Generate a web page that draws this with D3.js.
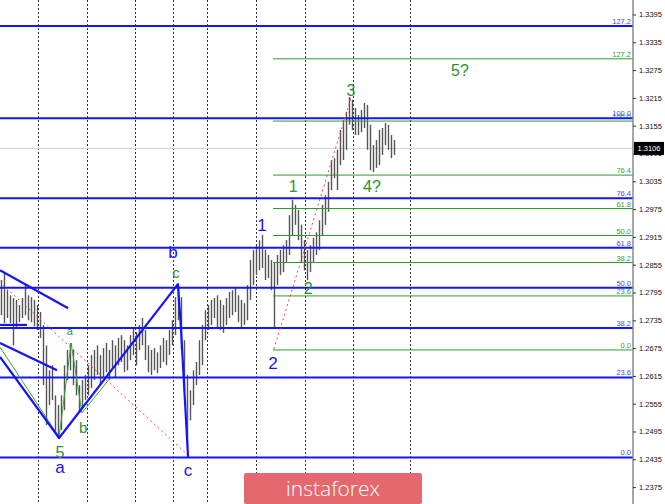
<!DOCTYPE html>
<html><head><meta charset="utf-8">
<script src="https://cdn.jsdelivr.net/npm/d3@7"></script>
<style>html,body{margin:0;padding:0;background:#fff;} svg{display:block;}</style>
</head><body>
<svg id="chart" width="665" height="504"></svg>
<script>
// ---- DATA ----
const highs = [
1.2822,1.2837,1.2800,1.2789,1.2783,1.2779,1.2768,1.2783,1.2811,1.2789,
1.2785,1.2779,1.2768,1.2753,1.2725,1.2681,1.2627,1.2638,1.2573,1.2552,
1.2573,1.2638,1.2671,1.2686,1.2671,1.2649,1.2595,1.2606,1.2617,1.2638,
1.2660,1.2671,1.2681,1.2660,1.2675,1.2686,1.2671,1.2692,1.2681,1.2697,
1.2703,1.2692,1.2681,1.2703,1.2718,1.2710,1.2725,1.2740,1.2714,1.2681,
1.2671,1.2675,1.2666,1.2681,1.2697,1.2692,1.2714,1.2735,1.2785,1.2811,
1.2785,1.2692,1.2617,1.2584,1.2627,1.2645,1.2692,1.2725,1.2757,1.2768,
1.2779,1.2783,1.2789,1.2779,1.2768,1.2783,1.2796,1.2800,1.2807,1.2789,
1.2779,1.2772,1.2811,1.2865,1.2887,1.2897,1.2908,1.2919,1.2887,1.2876,
1.2865,1.2861,1.2876,1.2887,1.2897,1.2908,1.2962,1.2995,1.2984,1.2973,
1.2941,1.2908,1.2887,1.2897,1.2913,1.2925,1.2951,1.2984,1.3005,1.3034,
1.3081,1.3085,1.3103,1.3146,1.3167,1.3185,1.3217,1.3211,1.3193,1.3178,
1.3189,1.3204,1.3200,1.3157,1.3113,1.3124,1.3146,1.3150,1.3161,1.3157,
1.3135,1.3124];
const lows = [
1.2746,1.2729,1.2740,1.2729,1.2681,1.2720,1.2731,1.2740,1.2746,1.2735,
1.2731,1.2722,1.2714,1.2697,1.2595,1.2509,1.2552,1.2563,1.2494,1.2481,
1.2498,1.2541,1.2606,1.2627,1.2595,1.2573,1.2535,1.2546,1.2563,1.2573,
1.2589,1.2606,1.2617,1.2595,1.2610,1.2623,1.2606,1.2632,1.2612,1.2638,
1.2645,1.2623,1.2627,1.2649,1.2660,1.2638,1.2671,1.2681,1.2649,1.2623,
1.2617,1.2627,1.2621,1.2632,1.2645,1.2638,1.2660,1.2681,1.2703,1.2735,
1.2671,1.2584,1.2459,1.2519,1.2552,1.2595,1.2617,1.2638,1.2692,1.2714,
1.2725,1.2740,1.2718,1.2714,1.2708,1.2725,1.2740,1.2746,1.2753,1.2731,
1.2718,1.2725,1.2735,1.2779,1.2811,1.2833,1.2843,1.2848,1.2822,1.2826,
1.2800,1.2720,1.2811,1.2833,1.2839,1.2861,1.2876,1.2919,1.2941,1.2908,
1.2861,1.2843,1.2822,1.2839,1.2861,1.2876,1.2887,1.2919,1.2941,1.2969,
1.3016,1.3042,1.3016,1.3070,1.3081,1.3103,1.3157,1.3146,1.3135,1.3135,
1.3141,1.3150,1.3103,1.3059,1.3055,1.3064,1.3070,1.3092,1.3113,1.3103,
1.3085,1.3092];
const lastPrice = 1.3106;
const priceTicks = [1.3395,1.3335,1.3275,1.3215,1.3155,1.3095,1.3035,1.2975,1.2915,1.2855,1.2795,1.2735,1.2675,1.2615,1.2555,1.2495,1.2435,1.2375];
const sessionBreaks = [12.3, 28.4, 44.5, 57, 68.6, 84.8, 101, 117, 136.3];
const fibLevels = [0, 23.6, 38.2, 50, 61.8, 76.4, 100, 127.2];
const blueFibRange = [1.2439, 1.3171];
const blueFibStart = -0.5;
const greenFibRange = [1.2671, 1.3165];
const greenFibStart = 90.5;
const blueWave = [[-0.5,1.2656],[19.2,1.2481],[58.8,1.2813],[59.8,1.2720],[62.2,1.2439]];
const blueTrendUpper = [[-0.5,1.2843],[22.2,1.2761]];
const blueTrendLower = [[-0.5,1.2686],[18.5,1.2627]];
const blueShort = [[-0.5,1.2725],[8.5,1.2725]];
const greenWave = [[-0.5,1.2677],[19.2,1.2483],[23.2,1.2686],[26.8,1.2535],[36.2,1.2610]];
const redDotted1 = [[0.5,1.2811],[62.2,1.2444]];
const redDotted2 = [[90.8,1.2673],[116.5,1.3215]];
const blueLabels = [["a",19.5,1.2418],["c",62.2,1.2412],["b",57.2,1.2882],["1",86.8,1.2941],["2",90.5,1.2643]];
const greenLabels = [["5",19.5,1.2451,16],["a",22.8,1.2712,11],["b",27.2,1.2503,15],["c",58.2,1.2839,15],
  ["1",97.2,1.3025,16],["2",102.2,1.2805,16],["3",116.5,1.3232,16],["4?",123.5,1.3025,16],["5?",152.8,1.3275,16]];

// ---- CHART ----
const W = 665, H = 504, plotR = 633;
const svg = d3.select("#chart");
const x = d3.scaleLinear().domain([-0.5, 210.5]).range([0, plotR]);
const y = d3.scaleLinear().domain([1.3395, 1.2375]).range([14.5, 487.1]);
const BLUE = "#1414ff", GREEN = "#2e8f2e";

svg.append("defs").append("clipPath").attr("id","clip")
  .append("rect").attr("x",0).attr("y",0).attr("width",plotR).attr("height",H);
const g = svg.append("g").attr("clip-path","url(#clip)");

// session grid
g.selectAll(".vg").data(sessionBreaks).enter().append("line")
  .attr("x1",d=>Math.round(x(d))+0.5).attr("x2",d=>Math.round(x(d))+0.5).attr("y1",0).attr("y2",H)
  .attr("stroke","#333").attr("stroke-width",1).attr("stroke-dasharray","2,2");

// last price line
g.append("line").attr("x1",0).attr("x2",plotR).attr("y1",y(lastPrice)).attr("y2",y(lastPrice))
  .attr("stroke","#d4d4d4").attr("stroke-width",1);

// bars
g.selectAll(".bar").data(highs.map((h,i)=>({i,h,l:lows[i]}))).enter().append("line")
  .attr("x1",d=>x(d.i)).attr("x2",d=>x(d.i)).attr("y1",d=>y(d.h)).attr("y2",d=>y(d.l))
  .attr("stroke","#555").attr("stroke-width",1.4);

// fib levels
function drawFib(range, startBar, color, labelColor, width){
  const lv = fibLevels.map(f=>({f, p: range[0] + (range[1]-range[0])*f/100}));
  g.selectAll(null).data(lv).enter().append("line")
    .attr("x1",x(startBar)).attr("x2",plotR).attr("y1",d=>y(d.p)).attr("y2",d=>y(d.p))
    .attr("stroke",color).attr("stroke-width",width);
  g.selectAll(null).data(lv).enter().append("text")
    .attr("x",plotR-2).attr("y",d=>y(d.p)-2).attr("text-anchor","end")
    .attr("font-family","Liberation Sans, Arial, sans-serif").attr("font-size",7.5)
    .attr("fill",labelColor).text(d=>d.f.toFixed(1));
}
drawFib(greenFibRange, greenFibStart, "#2f9a2f", "#3c9c2c", 1);
drawFib(blueFibRange, blueFibStart, BLUE, "#4646ff", 2);

const line = d3.line().x(d=>x(d[0])).y(d=>y(d[1]));
// red dotted
[redDotted1, redDotted2].forEach(seg=>{
  g.append("path").attr("d",line(seg)).attr("fill","none")
   .attr("stroke","#ff3a3a").attr("stroke-width",1).attr("stroke-dasharray","2,3");
});
// green wave
g.append("path").attr("d",line(greenWave)).attr("fill","none").attr("stroke","#3aa03a").attr("stroke-width",1);
// blue wave lines
[blueWave, blueTrendUpper, blueTrendLower, blueShort].forEach(seg=>{
  g.append("path").attr("d",line(seg)).attr("fill","none")
   .attr("stroke",BLUE).attr("stroke-width",2.2).attr("stroke-linejoin","round");
});

// wave labels
g.selectAll(null).data(blueLabels).enter().append("text")
  .attr("x",d=>x(d[1])).attr("y",d=>y(d[2])).attr("text-anchor","middle").attr("dy","0.36em")
  .attr("font-family","Liberation Sans, Arial, sans-serif").attr("font-size",17)
  .attr("fill",BLUE).text(d=>d[0]);
g.selectAll(null).data(greenLabels).enter().append("text")
  .attr("x",d=>x(d[1])).attr("y",d=>y(d[2])).attr("text-anchor","middle").attr("dy","0.36em")
  .attr("font-family","Liberation Sans, Arial, sans-serif").attr("font-size",d=>d[3])
  .attr("fill",GREEN).text(d=>d[0]);

// axis
svg.append("line").attr("x1",plotR).attr("x2",plotR).attr("y1",0).attr("y2",H)
  .attr("stroke","#8a8a8a").attr("stroke-width",1.5);
const ax = svg.append("g").attr("transform",`translate(${plotR},0)`)
  .call(d3.axisRight(y).tickValues(priceTicks).tickFormat(d3.format(".4f")).tickSize(3).tickPadding(3));
ax.select(".domain").remove();
ax.selectAll("text").attr("font-family","Liberation Sans, Arial, sans-serif").attr("font-size",7.5).attr("fill","#111");
ax.selectAll("line").attr("stroke","#333");

// last price box
svg.append("rect").attr("x",plotR+1).attr("y",y(lastPrice)-6.5).attr("width",30).attr("height",13).attr("fill","#000");
svg.append("text").attr("x",plotR+16).attr("y",y(lastPrice)).attr("dy","0.35em").attr("text-anchor","middle")
  .attr("font-family","Liberation Sans, Arial, sans-serif").attr("font-size",7.5).attr("fill","#fff").text(lastPrice.toFixed(4));

// watermark
svg.append("rect").attr("x",244).attr("y",473).attr("width",178).attr("height",31).attr("rx",2).attr("fill","#e4696e");
svg.append("text").attr("x",333).attr("y",489).attr("dy","0.35em").attr("text-anchor","middle")
  .attr("font-family","Open Sans, Lato, sans-serif").attr("font-weight",300).attr("font-size",21)
  .attr("fill","#fff").text("instaforex");
</script>
</body></html>
